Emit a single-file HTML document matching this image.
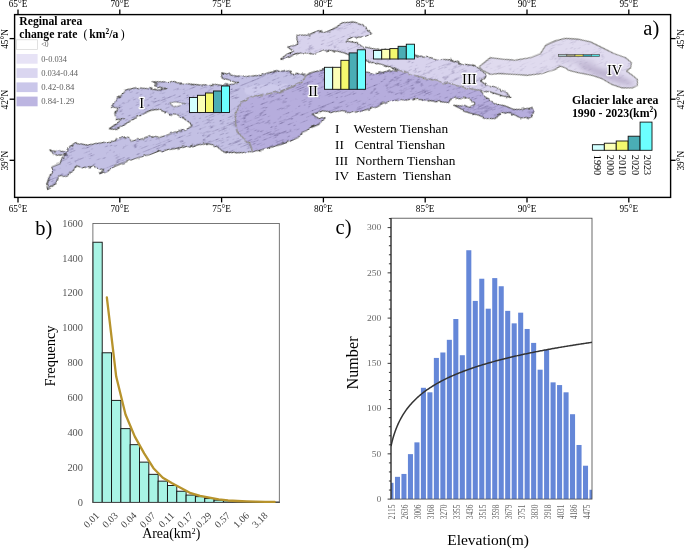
<!DOCTYPE html>
<html><head><meta charset="utf-8"><title>Tienshan glacier lakes</title>
<style>
html,body{margin:0;padding:0;background:#fff;}
body{width:685px;height:549px;overflow:hidden;font-family:"Liberation Serif",serif;}
svg{display:block;will-change:transform;}
text{font-family:"Liberation Serif",serif;fill:#000;}
</style></head><body>
<svg width="685" height="549" viewBox="0 0 685 549">
<rect x="0" y="0" width="685" height="549" fill="#fff"/>

<g id="map">
<defs>
<filter id="rough" x="-3%" y="-8%" width="106%" height="116%" color-interpolation-filters="sRGB">
<feTurbulence type="fractalNoise" baseFrequency="0.2" numOctaves="2" seed="4" result="n"/>
<feDisplacementMap in="SourceGraphic" in2="n" scale="3.4" xChannelSelector="R" yChannelSelector="G" result="d"/>
<feTurbulence type="turbulence" baseFrequency="0.045 0.28" numOctaves="4" seed="11" result="t"/>
<feColorMatrix in="t" type="matrix" values="0 0 0 0 0.30  0 0 0 0 0.26  0 0 0 0 0.45  -2.6 0 0 0 0.54" result="tx"/>
<feComposite in="tx" in2="d" operator="in" result="txc"/>
<feMerge><feMergeNode in="d"/><feMergeNode in="txc"/></feMerge>
</filter>
<filter id="rough3" x="-3%" y="-8%" width="106%" height="116%" color-interpolation-filters="sRGB">
<feTurbulence type="fractalNoise" baseFrequency="0.2" numOctaves="2" seed="4" result="n"/>
<feDisplacementMap in="SourceGraphic" in2="n" scale="3.4" xChannelSelector="R" yChannelSelector="G" result="d"/>
<feTurbulence type="turbulence" baseFrequency="0.045 0.28" numOctaves="4" seed="11" result="t"/>
<feColorMatrix in="t" type="matrix" values="0 0 0 0 0.30  0 0 0 0 0.26  0 0 0 0 0.45  -1.8 0 0 0 0.38" result="tx"/>
<feComposite in="tx" in2="d" operator="in" result="txc"/>
<feMerge><feMergeNode in="d"/><feMergeNode in="txc"/></feMerge>
</filter>
<filter id="rough4" x="-3%" y="-8%" width="106%" height="116%" color-interpolation-filters="sRGB">
<feTurbulence type="fractalNoise" baseFrequency="0.2" numOctaves="2" seed="4" result="n"/>
<feDisplacementMap in="SourceGraphic" in2="n" scale="1.6" xChannelSelector="R" yChannelSelector="G" result="d"/>
<feTurbulence type="turbulence" baseFrequency="0.045 0.28" numOctaves="4" seed="11" result="t"/>
<feColorMatrix in="t" type="matrix" values="0 0 0 0 0.30  0 0 0 0 0.26  0 0 0 0 0.45  -1.0 0 0 0 0.2" result="tx"/>
<feComposite in="tx" in2="d" operator="in" result="txc"/>
<feMerge><feMergeNode in="d"/><feMergeNode in="txc"/></feMerge>
</filter>
<filter id="smooth" x="-3%" y="-8%" width="106%" height="116%">
<feTurbulence type="fractalNoise" baseFrequency="0.2" numOctaves="2" seed="4" result="n"/>
<feDisplacementMap in="SourceGraphic" in2="n" scale="3.4" xChannelSelector="R" yChannelSelector="G"/>
</filter>
</defs>
<g stroke="#45453f" stroke-width="0.9" stroke-linejoin="round">
<g transform="rotate(-22 340 100)" filter="url(#rough3)"><g transform="rotate(22 340 100)"><polygon points="280.9,59.5 285.1,55.3 293.5,51.1 287.6,46.9 297.7,44.4 296.9,35.1 308.6,35.1 315.3,31.8 327.1,31.8 337.1,26.8 342.2,22.6 353.9,22.1 362.3,24.2 367.4,30.1 371.6,33.5 364,36.8 350.6,37.7 345.5,41 355.6,42.7 363.4,46.8 371.8,48.5 395,52 415.4,55.2 422.1,56.9 430.5,57.7 440,60.1 448.4,59.3 456.8,61.8 465.2,64.3 471.9,65.2 479.4,68.5 487,75.3 480.3,81.1 488.7,86.2 498.8,88.7 507.1,92.9 509.7,97.1 503.8,96.2 490.4,92 480.3,90.4 473.6,89.5 461.8,87 447.3,83.7 430.5,79.5 413.8,75.3 398.6,70.3 393.8,68.4 380.4,64 366,60.8 352,56 343.9,52.8 337.1,51.1 328.8,50.3 320.4,51.1 313.6,53.6 303.6,52.8 295.2,53.6 288.5,57.8" fill="#d8d3ed"/></g></g>
<g transform="rotate(-22 340 100)" filter="url(#rough4)"><g transform="rotate(22 340 100)"><polygon points="479.4,66.5 490.4,57.6 503.8,59.3 515.5,60.1 530.6,57.6 540.7,53.4 545.9,45.1 555.1,40.9 565.2,38.4 578.6,39.2 590.4,41.8 602.1,47.6 613.9,53.5 625.6,57.7 631.5,62.7 630.7,67.8 626.5,71.1 632.4,75.3 637.4,79.5 637.4,85.4 632.4,87.9 622.3,87.9 612.2,84.6 602.1,78.7 592.1,75.3 578.6,72.8 568.6,70.3 565.2,67.8 560.2,66.1 555.1,69.4 550.1,71.1 541.7,73.6 527.3,75.3 513.9,74.4 498.8,73.6 490.4,74.4 481.1,69.4" fill="#e0dbef" stroke="#6c6c66" stroke-width="0.9"/></g></g>
<g transform="rotate(-22 340 100)" filter="url(#rough)"><g transform="rotate(22 340 100)"><polygon points="47.6,189.6 46.7,183.8 49.2,177 53.4,172 51.8,167 60.1,163.6 61.8,158.6 66,154.4 56.8,155.2 49.2,151 56.8,151 67.7,151.9 68.5,147.7 75.3,142.6 87,145.1 97.1,143.5 107.1,141.8 115.5,141 116.4,138.4 127.3,136.8 131.5,141 140.7,139.3 147.4,136.8 155,136.8 158.4,137.7 166.8,135.2 175.2,131.9 185.3,130.2 192,126 188.6,121.8 183.6,118.4 178.5,115 171.8,115 166.8,112.6 160,110 157.1,109.5 150.4,110.3 140.3,115.4 128.5,122.1 116.8,129.6 109.2,128.8 123.5,118.7 115.9,119.6 115.1,113.7 118.5,107.8 111.8,106.1 116.8,98.6 125.2,92.7 124.3,90.2 136.1,87.7 147,88.5 157.9,90.2 167.1,88.5 153.7,86 157.9,83.5 152,81.8 167.1,81.8 183.9,83.5 200.7,85.1 215,84.4 221.8,85.3 230.2,84.4 238.6,83.6 230.2,80.2 221.8,77.7 221.8,72.7 231.9,75.2 241.9,76.9 252,76 262.1,75.2 268.8,72.7 280.5,71 290.6,71 294,75.2 297.3,72.7 304,75.2 306.6,75.2 302.4,81 292.3,86.9 278.9,92 263.8,94.5 250.3,97 241.9,102 236.9,108.8 235.6,118 235.6,123.5 237.3,131.9 244,138.6 249.9,143.6 252.4,151.7 237.3,152.8 223.9,152 220.5,149.5 215.5,145.3 207.1,143.6 195.3,145.3 183.6,147 170.1,149.5 158.4,151.2 150,154.5 140.7,156.9 130.6,160.2 118.9,164.4 110.5,168.6 107.1,172 99.6,173.7 103.8,169.5 97.1,168.6 93.7,166.1 82,167.8 75.3,165.3 73.6,170.3 66.9,176.2 58.5,177 56.8,182.9" fill="#c3c0e4"/>
<polygon points="306.6,75.2 310.3,72.9 323.7,69.6 345,70.5 365.7,72 376.8,73.6 388.6,71.1 398.6,70.3 413.8,75.3 430.5,79.5 447.3,83.7 461.8,87 473.6,89.5 480.3,90.4 486.7,98.5 495.1,103.5 505.2,106 513.6,109.4 522,109.4 532,107.7 533.7,111.9 531.2,117.8 520.3,117.8 510.2,112.7 501.8,112.7 495.1,118.6 486.7,118.6 478.9,115.3 468.8,112.8 462.1,109.4 453.7,105.2 462.1,106.1 470.5,106.9 474.7,104.4 468.8,98.5 458.8,97.7 450.4,99.3 448.7,102.7 433.6,101 416.8,99.3 400,100.2 385.4,102 377,107 363.6,110.4 351.8,112.9 340,111.2 332.3,111.8 322.2,110.9 318.9,112.6 312.1,114.3 318.9,118.5 324.7,117.7 318.9,124.4 312.1,126.9 307.1,130.3 301.2,132.8 298.7,137 288.6,142 275.2,146.2 261.8,149.6 252.4,151.7 249.9,143.6 244,138.6 237.3,131.9 235.6,123.5 235.6,118 236.9,108.8 241.9,102 250.3,97 263.8,94.5 278.9,92 292.3,86.9 302.4,81" fill="#b6addd"/>
<polygon points="243.6,87.8 255.4,85.3 272,84.4 289,83.6 283.9,88.6 268.8,92 252,94.5 243.6,92.8" fill="#cdcaeb" stroke="none"/>
<polygon points="169.7,102.8 175.5,102 185.6,103.6 178.9,106.1 173.9,107" fill="#fff" stroke-width="0.5"/>
<polyline points="306.6,75.2 302.4,81 292.3,86.9 278.9,92 263.8,94.5 250.3,97 241.9,102 236.9,108.8 235.6,118 235.6,123.5 237.3,131.9 244,138.6 249.9,143.6 252.4,151.7" fill="none" stroke="#bdb6e2" stroke-width="1.6"/>
<polyline points="398.6,70.3 413.8,75.3 430.5,79.5 447.3,83.7 461.8,87 473.6,89.5 480.3,90.4" fill="none" stroke="#c4bde5" stroke-width="1.6"/></g></g>
</g>
<clipPath id="c4"><polygon points="479.4,66.5 490.4,57.6 503.8,59.3 515.5,60.1 530.6,57.6 540.7,53.4 545.9,45.1 555.1,40.9 565.2,38.4 578.6,39.2 590.4,41.8 602.1,47.6 613.9,53.5 625.6,57.7 631.5,62.7 630.7,67.8 626.5,71.1 632.4,75.3 637.4,79.5 637.4,85.4 632.4,87.9 622.3,87.9 612.2,84.6 602.1,78.7 592.1,75.3 578.6,72.8 568.6,70.3 565.2,67.8 560.2,66.1 555.1,69.4 550.1,71.1 541.7,73.6 527.3,75.3 513.9,74.4 498.8,73.6 490.4,74.4 481.1,69.4"/></clipPath>
<filter id="bl4" x="-30%" y="-80%" width="160%" height="260%"><feGaussianBlur stdDeviation="2.6"/></filter>
<g clip-path="url(#c4)"><g filter="url(#bl4)">
<ellipse cx="606" cy="74.5" rx="30" ry="4.2" transform="rotate(20 606 74.5)" fill="#8f7fa8" fill-opacity="0.42"/>
<ellipse cx="575" cy="60" rx="22" ry="3" transform="rotate(8 575 60)" fill="#8f7fa8" fill-opacity="0.22"/>
</g></g>
<g fill="none" stroke="#85856c" stroke-width="0.8">
<g transform="rotate(-22 340 100)" filter="url(#smooth)"><g transform="rotate(22 340 100)"><polyline points="306.6,75.2 302.4,81 292.3,86.9 278.9,92 263.8,94.5 250.3,97 241.9,102 236.9,108.8 235.6,118 235.6,123.5 237.3,131.9 244,138.6 249.9,143.6 252.4,151.7"/><polyline points="398.6,70.3 413.8,75.3 430.5,79.5 447.3,83.7 461.8,87 473.6,89.5 480.3,90.4"/></g></g>
</g>

<rect x="14.6" y="14.6" width="656.0" height="182.8" fill="none" stroke="#000" stroke-width="1.4"/>
<line x1="18" y1="14.6" x2="18" y2="9.6" stroke="#000" stroke-width="1.3"/>
<line x1="18" y1="197.4" x2="18" y2="202.4" stroke="#000" stroke-width="1.3"/>
<text x="18" y="7.1" font-size="9.3" text-anchor="middle">65°E</text>
<text x="18" y="211.8" font-size="9.3" text-anchor="middle">65°E</text>
<line x1="119.8" y1="14.6" x2="119.8" y2="9.6" stroke="#000" stroke-width="1.3"/>
<line x1="119.8" y1="197.4" x2="119.8" y2="202.4" stroke="#000" stroke-width="1.3"/>
<text x="119.8" y="7.1" font-size="9.3" text-anchor="middle">70°E</text>
<text x="119.8" y="211.8" font-size="9.3" text-anchor="middle">70°E</text>
<line x1="221.6" y1="14.6" x2="221.6" y2="9.6" stroke="#000" stroke-width="1.3"/>
<line x1="221.6" y1="197.4" x2="221.6" y2="202.4" stroke="#000" stroke-width="1.3"/>
<text x="221.6" y="7.1" font-size="9.3" text-anchor="middle">75°E</text>
<text x="221.6" y="211.8" font-size="9.3" text-anchor="middle">75°E</text>
<line x1="323.4" y1="14.6" x2="323.4" y2="9.6" stroke="#000" stroke-width="1.3"/>
<line x1="323.4" y1="197.4" x2="323.4" y2="202.4" stroke="#000" stroke-width="1.3"/>
<text x="323.4" y="7.1" font-size="9.3" text-anchor="middle">80°E</text>
<text x="323.4" y="211.8" font-size="9.3" text-anchor="middle">80°E</text>
<line x1="425.2" y1="14.6" x2="425.2" y2="9.6" stroke="#000" stroke-width="1.3"/>
<line x1="425.2" y1="197.4" x2="425.2" y2="202.4" stroke="#000" stroke-width="1.3"/>
<text x="425.2" y="7.1" font-size="9.3" text-anchor="middle">85°E</text>
<text x="425.2" y="211.8" font-size="9.3" text-anchor="middle">85°E</text>
<line x1="527" y1="14.6" x2="527" y2="9.6" stroke="#000" stroke-width="1.3"/>
<line x1="527" y1="197.4" x2="527" y2="202.4" stroke="#000" stroke-width="1.3"/>
<text x="527" y="7.1" font-size="9.3" text-anchor="middle">90°E</text>
<text x="527" y="211.8" font-size="9.3" text-anchor="middle">90°E</text>
<line x1="628.8" y1="14.6" x2="628.8" y2="9.6" stroke="#000" stroke-width="1.3"/>
<line x1="628.8" y1="197.4" x2="628.8" y2="202.4" stroke="#000" stroke-width="1.3"/>
<text x="628.8" y="7.1" font-size="9.3" text-anchor="middle">95°E</text>
<text x="628.8" y="211.8" font-size="9.3" text-anchor="middle">95°E</text>
<line x1="14.6" y1="38.6" x2="9.6" y2="38.6" stroke="#000" stroke-width="1.3"/>
<line x1="670.6" y1="38.6" x2="675.6" y2="38.6" stroke="#000" stroke-width="1.3"/>
<text transform="translate(8.2,39.0) rotate(-90)" font-size="9.3" text-anchor="middle">45°N</text>
<text transform="translate(684.3,39.0) rotate(-90)" font-size="9.3" text-anchor="middle">45°N</text>
<line x1="14.6" y1="99.2" x2="9.6" y2="99.2" stroke="#000" stroke-width="1.3"/>
<line x1="670.6" y1="99.2" x2="675.6" y2="99.2" stroke="#000" stroke-width="1.3"/>
<text transform="translate(8.2,99.60000000000001) rotate(-90)" font-size="9.3" text-anchor="middle">42°N</text>
<text transform="translate(684.3,99.60000000000001) rotate(-90)" font-size="9.3" text-anchor="middle">42°N</text>
<line x1="14.6" y1="160.3" x2="9.6" y2="160.3" stroke="#000" stroke-width="1.3"/>
<line x1="670.6" y1="160.3" x2="675.6" y2="160.3" stroke="#000" stroke-width="1.3"/>
<text transform="translate(8.2,160.70000000000002) rotate(-90)" font-size="9.3" text-anchor="middle">39°N</text>
<text transform="translate(684.3,160.70000000000002) rotate(-90)" font-size="9.3" text-anchor="middle">39°N</text>
<text x="19.3" y="25.4" font-size="11.7" font-weight="bold">Reginal area</text>
<text x="19.3" y="38.3" font-size="11.7" font-weight="bold">change rate</text>
<text x="83.6" y="38" font-size="11.7">(</text>
<text x="89.3" y="38.3" font-size="11.7" font-weight="bold">km<tspan font-size="7.4" dy="-4.6">2</tspan><tspan dy="4.6">/a</tspan></text>
<text x="120.8" y="38" font-size="11.7">)</text>
<rect x="16.5" y="39.8" width="21.1" height="9.7" fill="#ffffff" stroke="#d4d4d4" stroke-width="0.7"/>
<text x="41.2" y="47.3" font-size="7.3" textLength="7.4" lengthAdjust="spacingAndGlyphs" style="fill:#5e5e5e">&lt;0</text>
<rect x="16.5" y="54.0" width="21.1" height="9.7" fill="#e7e3f6"/>
<text x="41.2" y="61.5" font-size="7.3" textLength="25.8" lengthAdjust="spacingAndGlyphs" style="fill:#5e5e5e">0-0.034</text>
<rect x="16.5" y="68.2" width="21.1" height="9.7" fill="#dad6f0"/>
<text x="41.2" y="75.7" font-size="7.3" textLength="36.9" lengthAdjust="spacingAndGlyphs" style="fill:#5e5e5e">0.034-0.44</text>
<rect x="16.5" y="82.4" width="21.1" height="9.7" fill="#cac7ea"/>
<text x="41.2" y="89.9" font-size="7.3" textLength="33.2" lengthAdjust="spacingAndGlyphs" style="fill:#5e5e5e">0.42-0.84</text>
<rect x="16.5" y="96.6" width="21.1" height="9.7" fill="#bcb5e1"/>
<text x="41.2" y="104.1" font-size="7.3" textLength="33.2" lengthAdjust="spacingAndGlyphs" style="fill:#5e5e5e">0.84-1.29</text>
<rect x="189.50" y="97.50" width="8.00" height="15.00" fill="#d2ffff" stroke="#111" stroke-width="0.9"/>
<rect x="197.50" y="95.30" width="8.00" height="17.20" fill="#fbffb6" stroke="#111" stroke-width="0.9"/>
<rect x="205.50" y="93.00" width="8.00" height="19.50" fill="#f4f86e" stroke="#111" stroke-width="0.9"/>
<rect x="213.50" y="91.00" width="8.00" height="21.50" fill="#4aadb5" stroke="#111" stroke-width="0.9"/>
<rect x="221.50" y="86.00" width="8.00" height="26.50" fill="#6cffff" stroke="#111" stroke-width="0.9"/>
<rect x="324.50" y="67.30" width="8.20" height="22.00" fill="#d2ffff" stroke="#111" stroke-width="0.9"/>
<rect x="332.70" y="67.30" width="8.20" height="22.00" fill="#fbffb6" stroke="#111" stroke-width="0.9"/>
<rect x="340.90" y="60.30" width="8.20" height="29.00" fill="#f4f86e" stroke="#111" stroke-width="0.9"/>
<rect x="349.10" y="52.90" width="8.20" height="36.40" fill="#4aadb5" stroke="#111" stroke-width="0.9"/>
<rect x="357.30" y="49.80" width="8.20" height="39.50" fill="#6cffff" stroke="#111" stroke-width="0.9"/>
<rect x="373.50" y="50.50" width="8.20" height="8.50" fill="#d2ffff" stroke="#111" stroke-width="0.9"/>
<rect x="381.70" y="49.30" width="8.20" height="9.70" fill="#fbffb6" stroke="#111" stroke-width="0.9"/>
<rect x="389.90" y="48.60" width="8.20" height="10.40" fill="#f4f86e" stroke="#111" stroke-width="0.9"/>
<rect x="398.10" y="46.30" width="8.20" height="12.70" fill="#4aadb5" stroke="#111" stroke-width="0.9"/>
<rect x="406.30" y="44.20" width="8.20" height="14.80" fill="#6cffff" stroke="#111" stroke-width="0.9"/>
<rect x="558.60" y="54.60" width="8.20" height="2.00" fill="#a8c4c4" stroke="#555" stroke-width="0.7"/>
<rect x="566.80" y="54.60" width="8.20" height="2.00" fill="#9a9a7c" stroke="#555" stroke-width="0.7"/>
<rect x="575.00" y="54.60" width="8.20" height="2.00" fill="#d6d650" stroke="#555" stroke-width="0.7"/>
<rect x="583.20" y="54.60" width="8.20" height="2.00" fill="#2fa3ab" stroke="#555" stroke-width="0.7"/>
<rect x="591.40" y="54.60" width="8.20" height="2.00" fill="#52dede" stroke="#555" stroke-width="0.7"/>
<rect x="592.40" y="144.70" width="11.92" height="5.60" fill="#d2ffff" stroke="#111" stroke-width="0.9"/>
<rect x="604.32" y="143.20" width="11.92" height="7.10" fill="#fbffb6" stroke="#111" stroke-width="0.9"/>
<rect x="616.24" y="141.00" width="11.92" height="9.30" fill="#f4f86e" stroke="#111" stroke-width="0.9"/>
<rect x="628.16" y="136.20" width="11.92" height="14.10" fill="#4aadb5" stroke="#111" stroke-width="0.9"/>
<rect x="640.08" y="122.10" width="11.92" height="28.20" fill="#6cffff" stroke="#111" stroke-width="0.9"/>
<text transform="translate(594.1,154.8) rotate(90)" font-size="10.2">1990</text>
<text transform="translate(606.6,154.8) rotate(90)" font-size="10.2">2000</text>
<text transform="translate(619.0,154.8) rotate(90)" font-size="10.2">2010</text>
<text transform="translate(631.5,154.8) rotate(90)" font-size="10.2">2020</text>
<text transform="translate(643.9,154.8) rotate(90)" font-size="10.2">2023</text>
<text x="615.2" y="103.6" font-size="11.85" font-weight="bold" text-anchor="middle">Glacier lake area</text>
<text x="571.9" y="116.9" font-size="11.85" font-weight="bold">1990 - 2023(km<tspan font-size="7.4" dy="-4.6">2</tspan><tspan dy="4.6">)</tspan></text>
<text x="643.3" y="35.2" font-size="20.5">a)</text>
<text x="141.8" y="107.8" font-size="14.6" text-anchor="middle" stroke="#fff" stroke-width="2.4" stroke-linejoin="round" style="fill:#fff">I</text>
<text x="141.8" y="107.8" font-size="14.6" text-anchor="middle">I</text>
<text x="313.1" y="95.9" font-size="14.6" text-anchor="middle" stroke="#fff" stroke-width="2.4" stroke-linejoin="round" style="fill:#fff">II</text>
<text x="313.1" y="95.9" font-size="14.6" text-anchor="middle">II</text>
<text x="469.4" y="83.8" font-size="14.6" text-anchor="middle" stroke="#fff" stroke-width="2.4" stroke-linejoin="round" style="fill:#fff">III</text>
<text x="469.4" y="83.8" font-size="14.6" text-anchor="middle">III</text>
<text x="614.7" y="75.2" font-size="14.6" text-anchor="middle" stroke="#fff" stroke-width="2.4" stroke-linejoin="round" style="fill:#fff">IV</text>
<text x="614.7" y="75.2" font-size="14.6" text-anchor="middle">IV</text>
<text x="335" y="132.7" font-size="13.3">I</text>
<text x="353.5" y="132.7" font-size="13.3" xml:space="preserve">Western Tienshan</text>
<text x="335" y="148.6" font-size="13.3">II</text>
<text x="354.6" y="148.6" font-size="13.3" xml:space="preserve">Central Tienshan</text>
<text x="335" y="164.5" font-size="13.3">III</text>
<text x="356" y="164.5" font-size="13.3" xml:space="preserve">Northern Tienshan</text>
<text x="335" y="180.4" font-size="13.3">IV</text>
<text x="356.6" y="180.4" font-size="13.3" xml:space="preserve">Eastern  Tienshan</text>
</g>
<g id="chartb">
<rect x="92.90" y="242.23" width="9.32" height="260.17" fill="#a8f4e5" stroke="#141414" stroke-width="0.95"/>
<rect x="102.22" y="352.79" width="9.32" height="149.61" fill="#a8f4e5" stroke="#141414" stroke-width="0.95"/>
<rect x="111.54" y="400.39" width="9.32" height="102.01" fill="#a8f4e5" stroke="#141414" stroke-width="0.95"/>
<rect x="120.86" y="428.64" width="9.32" height="73.76" fill="#a8f4e5" stroke="#141414" stroke-width="0.95"/>
<rect x="130.18" y="444.68" width="9.32" height="57.72" fill="#a8f4e5" stroke="#141414" stroke-width="0.95"/>
<rect x="139.50" y="462.12" width="9.32" height="40.28" fill="#a8f4e5" stroke="#141414" stroke-width="0.95"/>
<rect x="148.82" y="474.33" width="9.32" height="28.07" fill="#a8f4e5" stroke="#141414" stroke-width="0.95"/>
<rect x="158.14" y="481.13" width="9.32" height="21.27" fill="#a8f4e5" stroke="#141414" stroke-width="0.95"/>
<rect x="167.46" y="485.49" width="9.32" height="16.91" fill="#a8f4e5" stroke="#141414" stroke-width="0.95"/>
<rect x="176.78" y="491.24" width="9.32" height="11.16" fill="#a8f4e5" stroke="#141414" stroke-width="0.95"/>
<rect x="186.10" y="495.08" width="9.32" height="7.32" fill="#a8f4e5" stroke="#141414" stroke-width="0.95"/>
<rect x="195.42" y="496.65" width="9.32" height="5.75" fill="#a8f4e5" stroke="#141414" stroke-width="0.95"/>
<rect x="204.74" y="498.56" width="9.32" height="3.84" fill="#a8f4e5" stroke="#141414" stroke-width="0.95"/>
<rect x="214.06" y="500.13" width="9.32" height="2.27" fill="#a8f4e5" stroke="#141414" stroke-width="0.95"/>
<rect x="223.38" y="500.83" width="9.32" height="1.57" fill="#a8f4e5" stroke="#141414" stroke-width="0.95"/>
<rect x="232.70" y="501.18" width="9.32" height="1.22" fill="#a8f4e5" stroke="#141414" stroke-width="0.95"/>
<rect x="242.02" y="501.53" width="9.32" height="0.87" fill="#a8f4e5" stroke="#141414" stroke-width="0.95"/>
<rect x="251.34" y="501.70" width="9.32" height="0.70" fill="#a8f4e5" stroke="#141414" stroke-width="0.95"/>
<rect x="260.66" y="501.88" width="9.32" height="0.52" fill="#a8f4e5" stroke="#141414" stroke-width="0.95"/>
<rect x="269.98" y="502.05" width="9.32" height="0.35" fill="#a8f4e5" stroke="#141414" stroke-width="0.95"/>
<rect x="92.9" y="223.4" width="186.4" height="279.0" fill="none" stroke="#555" stroke-width="0.8"/>
<polyline points="106.88,297.51 116.20,376.59 125.52,414.51 134.84,436.66 144.16,453.40 153.48,468.22 162.80,477.73 172.12,483.31 181.44,488.36 190.76,493.16 200.08,495.86 209.40,497.60 218.72,499.35 228.04,500.48 237.36,501.00 246.68,501.35 256.00,501.62 265.32,501.79 274.64,501.96" fill="none" stroke="#b7932c" stroke-width="2.3" stroke-linejoin="round" stroke-linecap="round"/>
<text x="83" y="505.7" font-size="10.4" text-anchor="end" style="fill:#555">0</text>
<text x="83" y="470.8" font-size="10.4" text-anchor="end" style="fill:#555">200</text>
<text x="83" y="435.9" font-size="10.4" text-anchor="end" style="fill:#555">400</text>
<text x="83" y="401.1" font-size="10.4" text-anchor="end" style="fill:#555">600</text>
<text x="83" y="366.2" font-size="10.4" text-anchor="end" style="fill:#555">800</text>
<text x="83" y="331.3" font-size="10.4" text-anchor="end" style="fill:#555">1000</text>
<text x="83" y="296.4" font-size="10.4" text-anchor="end" style="fill:#555">1200</text>
<text x="83" y="261.6" font-size="10.4" text-anchor="end" style="fill:#555">1400</text>
<text x="83" y="226.7" font-size="10.4" text-anchor="end" style="fill:#555">1600</text>
<text transform="translate(99.8,516.2) rotate(-45)" font-size="10" text-anchor="end" style="fill:#444">0.01</text>
<text transform="translate(118.5,516.2) rotate(-45)" font-size="10" text-anchor="end" style="fill:#444">0.03</text>
<text transform="translate(137.2,516.2) rotate(-45)" font-size="10" text-anchor="end" style="fill:#444">0.04</text>
<text transform="translate(156.0,516.2) rotate(-45)" font-size="10" text-anchor="end" style="fill:#444">0.07</text>
<text transform="translate(174.7,516.2) rotate(-45)" font-size="10" text-anchor="end" style="fill:#444">0.11</text>
<text transform="translate(193.5,516.2) rotate(-45)" font-size="10" text-anchor="end" style="fill:#444">0.17</text>
<text transform="translate(212.2,516.2) rotate(-45)" font-size="10" text-anchor="end" style="fill:#444">0.29</text>
<text transform="translate(230.9,516.2) rotate(-45)" font-size="10" text-anchor="end" style="fill:#444">0.57</text>
<text transform="translate(249.7,516.2) rotate(-45)" font-size="10" text-anchor="end" style="fill:#444">1.06</text>
<text transform="translate(268.4,516.2) rotate(-45)" font-size="10" text-anchor="end" style="fill:#444">3.18</text>
<text transform="translate(55.2,356) rotate(-90)" font-size="14.5" text-anchor="middle">Frequency</text>
<text x="142.2" y="538.4" font-size="13.9">Area(km<tspan font-size="8.3" dy="-4.8">2</tspan><tspan dy="4.8">)</tspan></text>
<text x="35.3" y="234.7" font-size="20.5">b)</text>
</g>
<g id="chartc">
<clipPath id="cc"><rect x="391.0" y="218.2" width="201.0" height="280.90000000000003"/></clipPath>
<g clip-path="url(#cc)">
<rect x="388.48" y="482.81" width="5.05" height="16.29" fill="#6587d8"/>
<rect x="394.96" y="476.84" width="5.05" height="22.26" fill="#6587d8"/>
<rect x="401.44" y="473.94" width="5.05" height="25.16" fill="#6587d8"/>
<rect x="407.93" y="454.12" width="5.05" height="44.98" fill="#6587d8"/>
<rect x="414.41" y="442.36" width="5.05" height="56.74" fill="#6587d8"/>
<rect x="420.89" y="387.79" width="5.05" height="111.31" fill="#6587d8"/>
<rect x="427.38" y="392.31" width="5.05" height="106.79" fill="#6587d8"/>
<rect x="433.86" y="357.92" width="5.05" height="141.18" fill="#6587d8"/>
<rect x="440.35" y="352.49" width="5.05" height="146.61" fill="#6587d8"/>
<rect x="446.83" y="339.82" width="5.05" height="159.28" fill="#6587d8"/>
<rect x="453.31" y="319.00" width="5.05" height="180.10" fill="#6587d8"/>
<rect x="459.80" y="355.21" width="5.05" height="143.89" fill="#6587d8"/>
<rect x="466.28" y="250.23" width="5.05" height="248.88" fill="#6587d8"/>
<rect x="472.77" y="300.91" width="5.05" height="198.19" fill="#6587d8"/>
<rect x="479.25" y="278.73" width="5.05" height="220.37" fill="#6587d8"/>
<rect x="485.73" y="308.69" width="5.05" height="190.41" fill="#6587d8"/>
<rect x="492.22" y="278.10" width="5.05" height="221.00" fill="#6587d8"/>
<rect x="498.70" y="286.24" width="5.05" height="212.86" fill="#6587d8"/>
<rect x="505.18" y="310.86" width="5.05" height="188.24" fill="#6587d8"/>
<rect x="511.67" y="323.35" width="5.05" height="175.75" fill="#6587d8"/>
<rect x="518.15" y="312.67" width="5.05" height="186.43" fill="#6587d8"/>
<rect x="524.64" y="328.96" width="5.05" height="170.14" fill="#6587d8"/>
<rect x="531.12" y="342.90" width="5.05" height="156.20" fill="#6587d8"/>
<rect x="537.60" y="369.69" width="5.05" height="129.41" fill="#6587d8"/>
<rect x="544.09" y="349.77" width="5.05" height="149.33" fill="#6587d8"/>
<rect x="550.57" y="382.36" width="5.05" height="116.75" fill="#6587d8"/>
<rect x="557.06" y="385.07" width="5.05" height="114.03" fill="#6587d8"/>
<rect x="563.54" y="392.31" width="5.05" height="106.79" fill="#6587d8"/>
<rect x="570.02" y="414.21" width="5.05" height="84.89" fill="#6587d8"/>
<rect x="576.51" y="444.98" width="5.05" height="54.12" fill="#6587d8"/>
<rect x="582.99" y="465.71" width="5.05" height="33.39" fill="#6587d8"/>
<rect x="589.48" y="489.78" width="5.05" height="9.32" fill="#6587d8"/>
<polyline points="391.00,446.16 392.00,441.84 393.01,438.07 394.01,434.72 395.02,431.71 396.02,428.97 397.03,426.46 398.04,424.15 399.04,422.00 400.05,419.99 401.05,418.12 402.06,416.35 403.06,414.68 404.06,413.10 405.07,411.60 406.07,410.17 407.08,408.80 408.08,407.50 409.09,406.25 410.10,405.05 411.10,403.89 412.11,402.78 413.11,401.71 414.12,400.67 415.12,399.67 416.12,398.70 417.13,397.77 418.13,396.86 419.14,395.98 420.14,395.12 421.15,394.28 422.15,393.47 423.16,392.68 424.17,391.92 425.17,391.17 426.18,390.43 427.18,389.72 428.19,389.02 429.19,388.34 430.19,387.67 431.20,387.02 432.20,386.38 433.21,385.76 434.21,385.15 435.22,384.55 436.23,383.96 437.23,383.38 438.24,382.82 439.24,382.26 440.25,381.72 441.25,381.18 442.25,380.66 443.26,380.14 444.26,379.63 445.27,379.13 446.27,378.64 447.28,378.16 448.29,377.68 449.29,377.21 450.30,376.75 451.30,376.30 452.31,375.85 453.31,375.41 454.31,374.97 455.32,374.55 456.32,374.12 457.33,373.71 458.33,373.30 459.34,372.89 460.35,372.49 461.35,372.10 462.36,371.71 463.36,371.32 464.37,370.94 465.37,370.57 466.38,370.20 467.38,369.83 468.38,369.47 469.39,369.12 470.39,368.76 471.40,368.42 472.40,368.07 473.41,367.73 474.41,367.39 475.42,367.06 476.43,366.73 477.43,366.41 478.44,366.08 479.44,365.76 480.44,365.45 481.45,365.14 482.45,364.83 483.46,364.52 484.46,364.22 485.47,363.92 486.48,363.62 487.48,363.33 488.49,363.04 489.49,362.75 490.50,362.46 491.50,362.18 492.50,361.90 493.51,361.62 494.51,361.35 495.52,361.08 496.52,360.81 497.53,360.54 498.53,360.27 499.54,360.01 500.54,359.75 501.55,359.49 502.55,359.24 503.56,358.98 504.56,358.73 505.57,358.48 506.57,358.23 507.58,357.99 508.59,357.74 509.59,357.50 510.60,357.26 511.60,357.02 512.61,356.79 513.61,356.55 514.62,356.32 515.62,356.09 516.62,355.86 517.63,355.64 518.63,355.41 519.64,355.19 520.64,354.96 521.65,354.74 522.65,354.53 523.66,354.31 524.66,354.09 525.67,353.88 526.67,353.67 527.68,353.46 528.68,353.25 529.69,353.04 530.69,352.83 531.70,352.63 532.70,352.42 533.71,352.22 534.71,352.02 535.72,351.82 536.73,351.62 537.73,351.42 538.74,351.23 539.74,351.03 540.75,350.84 541.75,350.65 542.75,350.46 543.76,350.27 544.76,350.08 545.77,349.89 546.77,349.70 547.78,349.52 548.78,349.34 549.79,349.15 550.79,348.97 551.80,348.79 552.80,348.61 553.81,348.43 554.82,348.26 555.82,348.08 556.83,347.90 557.83,347.73 558.84,347.56 559.84,347.38 560.85,347.21 561.85,347.04 562.86,346.87 563.86,346.71 564.87,346.54 565.87,346.37 566.88,346.21 567.88,346.04 568.88,345.88 569.89,345.72 570.89,345.55 571.90,345.39 572.90,345.23 573.91,345.07 574.91,344.91 575.92,344.76 576.92,344.60 577.93,344.44 578.93,344.29 579.94,344.13 580.94,343.98 581.95,343.83 582.95,343.67 583.96,343.52 584.96,343.37 585.97,343.22 586.98,343.07 587.98,342.93 588.99,342.78 589.99,342.63 591.00,342.49 592.00,342.34" fill="none" stroke="#333" stroke-width="1.5"/>
</g>
<rect x="391.0" y="218.2" width="201.0" height="280.90000000000003" fill="none" stroke="#444" stroke-width="0.8"/>
<line x1="391.0" y1="218.2" x2="391.0" y2="499.1" stroke="#222" stroke-width="1.0"/>
<line x1="391.0" y1="499.10" x2="387.6" y2="499.10" stroke="#222" stroke-width="0.9"/>
<line x1="391.0" y1="490.05" x2="388.9" y2="490.05" stroke="#222" stroke-width="0.9"/>
<line x1="391.0" y1="481.00" x2="388.9" y2="481.00" stroke="#222" stroke-width="0.9"/>
<line x1="391.0" y1="471.95" x2="388.9" y2="471.95" stroke="#222" stroke-width="0.9"/>
<line x1="391.0" y1="462.90" x2="388.9" y2="462.90" stroke="#222" stroke-width="0.9"/>
<line x1="391.0" y1="453.85" x2="387.6" y2="453.85" stroke="#222" stroke-width="0.9"/>
<line x1="391.0" y1="444.80" x2="388.9" y2="444.80" stroke="#222" stroke-width="0.9"/>
<line x1="391.0" y1="435.75" x2="388.9" y2="435.75" stroke="#222" stroke-width="0.9"/>
<line x1="391.0" y1="426.70" x2="388.9" y2="426.70" stroke="#222" stroke-width="0.9"/>
<line x1="391.0" y1="417.65" x2="388.9" y2="417.65" stroke="#222" stroke-width="0.9"/>
<line x1="391.0" y1="408.60" x2="387.6" y2="408.60" stroke="#222" stroke-width="0.9"/>
<line x1="391.0" y1="399.55" x2="388.9" y2="399.55" stroke="#222" stroke-width="0.9"/>
<line x1="391.0" y1="390.50" x2="388.9" y2="390.50" stroke="#222" stroke-width="0.9"/>
<line x1="391.0" y1="381.45" x2="388.9" y2="381.45" stroke="#222" stroke-width="0.9"/>
<line x1="391.0" y1="372.40" x2="388.9" y2="372.40" stroke="#222" stroke-width="0.9"/>
<line x1="391.0" y1="363.35" x2="387.6" y2="363.35" stroke="#222" stroke-width="0.9"/>
<line x1="391.0" y1="354.30" x2="388.9" y2="354.30" stroke="#222" stroke-width="0.9"/>
<line x1="391.0" y1="345.25" x2="388.9" y2="345.25" stroke="#222" stroke-width="0.9"/>
<line x1="391.0" y1="336.20" x2="388.9" y2="336.20" stroke="#222" stroke-width="0.9"/>
<line x1="391.0" y1="327.15" x2="388.9" y2="327.15" stroke="#222" stroke-width="0.9"/>
<line x1="391.0" y1="318.10" x2="387.6" y2="318.10" stroke="#222" stroke-width="0.9"/>
<line x1="391.0" y1="309.05" x2="388.9" y2="309.05" stroke="#222" stroke-width="0.9"/>
<line x1="391.0" y1="300.00" x2="388.9" y2="300.00" stroke="#222" stroke-width="0.9"/>
<line x1="391.0" y1="290.95" x2="388.9" y2="290.95" stroke="#222" stroke-width="0.9"/>
<line x1="391.0" y1="281.90" x2="388.9" y2="281.90" stroke="#222" stroke-width="0.9"/>
<line x1="391.0" y1="272.85" x2="387.6" y2="272.85" stroke="#222" stroke-width="0.9"/>
<line x1="391.0" y1="263.80" x2="388.9" y2="263.80" stroke="#222" stroke-width="0.9"/>
<line x1="391.0" y1="254.75" x2="388.9" y2="254.75" stroke="#222" stroke-width="0.9"/>
<line x1="391.0" y1="245.70" x2="388.9" y2="245.70" stroke="#222" stroke-width="0.9"/>
<line x1="391.0" y1="236.65" x2="388.9" y2="236.65" stroke="#222" stroke-width="0.9"/>
<line x1="391.0" y1="227.60" x2="387.6" y2="227.60" stroke="#222" stroke-width="0.9"/>
<line x1="391.0" y1="218.55" x2="388.9" y2="218.55" stroke="#222" stroke-width="0.9"/>
<text x="376.7" y="501.7" font-size="7.4" textLength="4.5" lengthAdjust="spacingAndGlyphs" style="fill:#6a6a6a">0</text>
<text x="371.8" y="456.5" font-size="7.4" textLength="9.4" lengthAdjust="spacingAndGlyphs" style="fill:#6a6a6a">50</text>
<text x="366.9" y="411.2" font-size="7.4" textLength="14.3" lengthAdjust="spacingAndGlyphs" style="fill:#6a6a6a">100</text>
<text x="366.9" y="366.0" font-size="7.4" textLength="14.3" lengthAdjust="spacingAndGlyphs" style="fill:#6a6a6a">150</text>
<text x="366.9" y="320.7" font-size="7.4" textLength="14.3" lengthAdjust="spacingAndGlyphs" style="fill:#6a6a6a">200</text>
<text x="366.9" y="275.5" font-size="7.4" textLength="14.3" lengthAdjust="spacingAndGlyphs" style="fill:#6a6a6a">250</text>
<text x="366.9" y="230.2" font-size="7.4" textLength="14.3" lengthAdjust="spacingAndGlyphs" style="fill:#6a6a6a">300</text>
<text transform="translate(394.6,519.2) rotate(-90)" font-size="10" textLength="14.6" lengthAdjust="spacingAndGlyphs" style="fill:#666">2115</text>
<text transform="translate(407.6,519.2) rotate(-90)" font-size="10" textLength="14.6" lengthAdjust="spacingAndGlyphs" style="fill:#666">2636</text>
<text transform="translate(420.7,519.2) rotate(-90)" font-size="10" textLength="14.6" lengthAdjust="spacingAndGlyphs" style="fill:#666">3006</text>
<text transform="translate(433.7,519.2) rotate(-90)" font-size="10" textLength="14.6" lengthAdjust="spacingAndGlyphs" style="fill:#666">3168</text>
<text transform="translate(446.7,519.2) rotate(-90)" font-size="10" textLength="14.6" lengthAdjust="spacingAndGlyphs" style="fill:#666">3270</text>
<text transform="translate(459.8,519.2) rotate(-90)" font-size="10" textLength="14.6" lengthAdjust="spacingAndGlyphs" style="fill:#666">3355</text>
<text transform="translate(472.8,519.2) rotate(-90)" font-size="10" textLength="14.6" lengthAdjust="spacingAndGlyphs" style="fill:#666">3436</text>
<text transform="translate(485.8,519.2) rotate(-90)" font-size="10" textLength="14.6" lengthAdjust="spacingAndGlyphs" style="fill:#666">3515</text>
<text transform="translate(498.8,519.2) rotate(-90)" font-size="10" textLength="14.6" lengthAdjust="spacingAndGlyphs" style="fill:#666">3598</text>
<text transform="translate(511.9,519.2) rotate(-90)" font-size="10" textLength="14.6" lengthAdjust="spacingAndGlyphs" style="fill:#666">3679</text>
<text transform="translate(524.9,519.2) rotate(-90)" font-size="10" textLength="14.6" lengthAdjust="spacingAndGlyphs" style="fill:#666">3751</text>
<text transform="translate(537.9,519.2) rotate(-90)" font-size="10" textLength="14.6" lengthAdjust="spacingAndGlyphs" style="fill:#666">3830</text>
<text transform="translate(551.0,519.2) rotate(-90)" font-size="10" textLength="14.6" lengthAdjust="spacingAndGlyphs" style="fill:#666">3918</text>
<text transform="translate(564.0,519.2) rotate(-90)" font-size="10" textLength="14.6" lengthAdjust="spacingAndGlyphs" style="fill:#666">4031</text>
<text transform="translate(577.0,519.2) rotate(-90)" font-size="10" textLength="14.6" lengthAdjust="spacingAndGlyphs" style="fill:#666">4186</text>
<text transform="translate(590.0,519.2) rotate(-90)" font-size="10" textLength="14.6" lengthAdjust="spacingAndGlyphs" style="fill:#666">4475</text>
<text transform="translate(357.9,363) rotate(-90)" font-size="16.2" text-anchor="middle">Number</text>
<text x="447.2" y="544.7" font-size="15.5">Elevation(m)</text>
<text x="335.6" y="234.2" font-size="20.5">c)</text>
</g>
</svg></body></html>
